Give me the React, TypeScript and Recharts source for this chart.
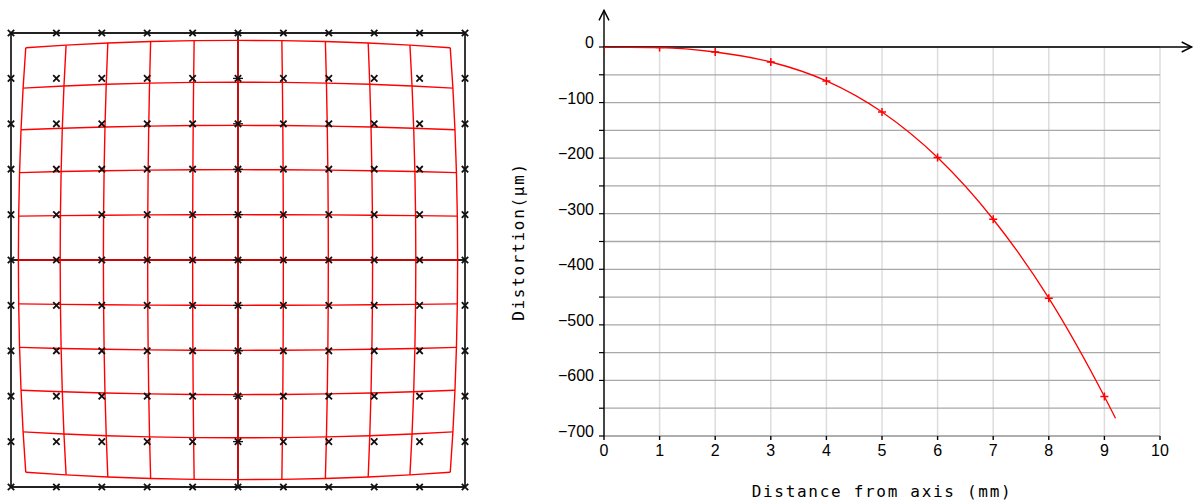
import React from 'react';
import {
  ComposedChart,
  Scatter,
  Line,
  XAxis,
  YAxis,
  ReferenceLine,
  CartesianGrid,
  Label,
} from 'recharts';

// ---------- Left panel: ideal grid (crosses) and distorted grid (red) ----------
const gridSteps = [-5, -4, -3, -2, -1, 0, 1, 2, 3, 4, 5];
// radial scale factor of each distorted (red) node, indexed [|row step|][|column step|]
const redGridScale = [
  [1.0, 0.9987, 0.9948, 0.9883, 0.9792, 0.9675],
  [0.9987, 0.9974, 0.9935, 0.987, 0.9779, 0.9662],
  [0.9948, 0.9935, 0.9896, 0.9831, 0.974, 0.9623],
  [0.9883, 0.987, 0.9831, 0.9766, 0.9675, 0.9558],
  [0.9792, 0.9779, 0.974, 0.9675, 0.9584, 0.9467],
  [0.9675, 0.9662, 0.9623, 0.9558, 0.9467, 0.935],
];

// ---------- Right panel: distortion curve ----------
const distanceMm = [0, 1, 2, 3, 4, 5, 6, 7, 8, 9, 9.2];
const distortionUm = [0, -1, -9, -27, -61, -117, -199, -310, -452, -629, -668];
const hasMarker = [true, true, true, true, true, true, true, true, true, true, false];
const xTicks = [0, 1, 2, 3, 4, 5, 6, 7, 8, 9, 10];
const yTicks = [0, -50, -100, -150, -200, -250, -300, -350, -400, -450, -500, -550, -600, -650, -700];
const yLabelEvery = 100;

// tables built from the arrays above
const redNode = (i: number, j: number) => {
  const f = redGridScale[Math.abs(j)][Math.abs(i)];
  return { x: i * f, y: j * f };
};
const redRows = gridSteps.map((j) => gridSteps.map((i) => redNode(i, j)));
const redCols = gridSteps.map((i) => gridSteps.map((j) => redNode(i, j)));
const crossPoints = gridSteps.flatMap((j) => gridSteps.map((i) => ({ x: i, y: j })));
const curveData = distanceMm.map((x, k) => ({ x, y: distortionUm[k], marker: hasMarker[k] }));

const RED = '#ff0000';
const INK = '#111111';

const EmptyShape = () => <g />;

const CrossShape = (props: any) => {
  const { cx, cy, payload } = props;
  const s = 3.2;
  return (
    <g>
      <path
        d={`M${cx - s},${cy - s}L${cx + s},${cy + s}M${cx - s},${cy + s}L${cx + s},${cy - s}`}
        stroke={INK}
        strokeWidth={1.8}
      />
      {payload && payload.x === 0 ? (
        <path d={`M${cx - 5},${cy}H${cx + 5}`} stroke={INK} strokeWidth={1.3} />
      ) : null}
    </g>
  );
};

const PlusDot = (props: any) => {
  const { cx, cy, payload, index } = props;
  if (!payload || !payload.marker) return <g key={`d${index}`} />;
  return (
    <path
      key={`d${index}`}
      d={`M${cx - 4},${cy}H${cx + 4}M${cx},${cy - 4}V${cy + 4}`}
      stroke={RED}
      strokeWidth={1.5}
    />
  );
};

const ArrowShape = (dir: 'up' | 'right') => (props: any) => {
  const { x1, y1, x2, y2 } = props;
  const len = 10;
  const half = 5;
  const head =
    dir === 'up'
      ? `M${x2 - half},${y2 + len}L${x2},${y2}L${x2 + half},${y2 + len}`
      : `M${x2 - len},${y2 - half}L${x2},${y2}L${x2 - len},${y2 + half}`;
  return (
    <g>
      <line x1={x1} y1={y1} x2={x2} y2={y2} stroke="#000" strokeWidth={1.4} />
      <path d={head} fill="none" stroke="#000" strokeWidth={1.4} />
    </g>
  );
};

const YTick = (props: any) => {
  const { x, y, payload } = props;
  if (payload.value % yLabelEvery !== 0) return <g />;
  const v = payload.value;
  const txt = v < 0 ? `\u2212${Math.abs(v)}` : `${v}`;
  return (
    <text
      x={x - 3}
      y={y + 1}
      textAnchor="end"
      fontFamily="Liberation Sans, Arial, sans-serif"
      fontSize={16}
      fill="#000"
    >
      {txt}
    </text>
  );
};

const XTick = (props: any) => {
  const { x, y, payload } = props;
  return (
    <text
      x={x}
      y={y + 14}
      textAnchor="middle"
      fontFamily="Liberation Sans, Arial, sans-serif"
      fontSize={16}
      fill="#000"
    >
      {payload.value}
    </text>
  );
};

const titleStyle = {
  fontFamily: 'DejaVu Sans Mono, monospace',
  fontSize: 16,
  letterSpacing: 1.7,
  fill: '#000',
};

export default function App() {
  return (
    <div style={{ position: 'absolute', left: 0, top: 0, width: 1195, height: 504, background: '#fff' }}>
      <div style={{ position: 'absolute', left: 0, top: 0 }}>
        <ComposedChart width={480} height={504} margin={{ top: 33, right: 15, bottom: 17, left: 11 }}>
          <XAxis type="number" dataKey="x" domain={[-5, 5]} hide />
          <YAxis type="number" dataKey="y" domain={[-5, 5]} hide />
          {redRows.map((d, k) => (
            <Scatter
              key={`row${k}`}
              data={d}
              line={{ stroke: RED, strokeWidth: 1.4 }}
              shape={EmptyShape}
              isAnimationActive={false}
            />
          ))}
          {redCols.map((d, k) => (
            <Scatter
              key={`col${k}`}
              data={d}
              line={{ stroke: RED, strokeWidth: 1.4 }}
              shape={EmptyShape}
              isAnimationActive={false}
            />
          ))}
          <ReferenceLine x={-5} stroke="#222" strokeWidth={1.8} />
          <ReferenceLine x={5} stroke="#222" strokeWidth={1.8} />
          <ReferenceLine y={-5} stroke="#222" strokeWidth={1.8} />
          <ReferenceLine y={5} stroke="#222" strokeWidth={1.8} />
          <ReferenceLine x={0} stroke="#222" strokeWidth={1.8} />
          <ReferenceLine y={0} stroke="#222" strokeWidth={1.8} />
          <Scatter data={crossPoints} shape={CrossShape} isAnimationActive={false} />
        </ComposedChart>
      </div>
      <div style={{ position: 'absolute', left: 495, top: 0 }}>
        <ComposedChart
          width={700}
          height={504}
          data={curveData}
          margin={{ top: 47, right: 35, bottom: 20, left: 0 }}
        >
          <CartesianGrid horizontal={false} stroke="#dcdcdc" strokeWidth={1.5} />
          <CartesianGrid vertical={false} stroke="#a8a8a8" strokeWidth={1.3} />
          <XAxis
            type="number"
            dataKey="x"
            domain={[0, 10]}
            ticks={xTicks}
            interval={0}
            height={48}
            axisLine={{ stroke: '#a8a8a8', strokeWidth: 1.3 }}
            tickLine={{ stroke: '#000', strokeWidth: 1.4 }}
            tickSize={4}
            tick={XTick}
            allowDataOverflow
          >
            <Label
              content={(p: any) => {
                const vb = p.viewBox || {};
                return (
                  <text x={vb.x + vb.width / 2} y={vb.y + 61} textAnchor="middle" style={titleStyle}>
                    Distance from axis (mm)
                  </text>
                );
              }}
            />
          </XAxis>
          <YAxis
            type="number"
            domain={[-700, 0]}
            ticks={yTicks}
            interval={0}
            width={109}
            axisLine={{ stroke: '#000', strokeWidth: 1.4 }}
            tickLine={{ stroke: '#000', strokeWidth: 1.2 }}
            tickSize={5}
            tick={YTick}
            allowDataOverflow
          >
            <Label
              content={(p: any) => {
                const vb = p.viewBox || {};
                const cx = vb.x + 23;
                const cy = vb.y + vb.height / 2;
                return (
                  <text
                    x={cx}
                    y={cy}
                    textAnchor="middle"
                    dominantBaseline="central"
                    transform={`rotate(-90 ${cx} ${cy})`}
                    style={titleStyle}
                  >
                    Distortion(μm)
                  </text>
                );
              }}
            />
          </YAxis>
          <ReferenceLine
            segment={[{ x: 0, y: 0 }, { x: 0, y: 66 }]}
            ifOverflow="visible"
            shape={ArrowShape('up')}
          />
          <ReferenceLine
            segment={[{ x: 0, y: 0 }, { x: 10.57, y: 0 }]}
            ifOverflow="visible"
            shape={ArrowShape('right')}
          />
          <Line
            dataKey="y"
            type="monotone"
            stroke={RED}
            strokeWidth={1.3}
            dot={PlusDot}
            activeDot={false}
            isAnimationActive={false}
          />
        </ComposedChart>
      </div>
    </div>
  );
}
